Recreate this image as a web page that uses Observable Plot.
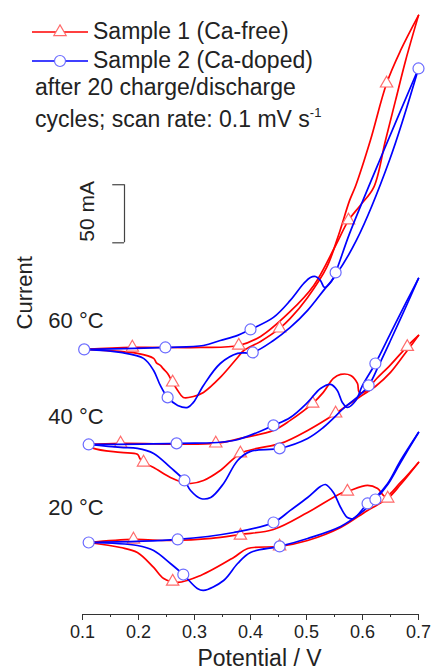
<!DOCTYPE html>
<html>
<head>
<meta charset="utf-8">
<script src="https://cdn.jsdelivr.net/npm/d3@7"></script>
<script src="https://cdn.jsdelivr.net/npm/@observablehq/plot@0.6"></script>
<style>
  body { margin: 0; background: #fff; font-family: "Liberation Sans", Arial, sans-serif; color: #222; }
  #wrap { position: relative; width: 432px; height: 672px; overflow: hidden; }
  .lg { position: absolute; font-size: 23px; white-space: nowrap; line-height: 1; }
  .sw { position: absolute; }
</style>
</head>
<body>
<div id="wrap"></div>
<script>
// ---------- data (potential in V, current in mA relative to each curve's baseline) ----------
const xTicks = [0.1, 0.2, 0.3, 0.4, 0.5, 0.6, 0.7];
const xMinorTicks = [0.15, 0.25, 0.35, 0.45, 0.55, 0.65];
const tempLabels = ["20 °C", "40 °C", "60 °C"];
const tempOffsets = [62.0, 146.4, 228.2];      // vertical stacking offsets (mA)
const tempLabelY = [91.3, 170.5, 253.1];        // label positions (mA)
const tempLabelX = 0.039;
const scaleBarBase = 320;
const scaleBarSize = 50;
const scaleBarLabel = "50 mA";
const sampleNames = ["Sample 1 (Ca-free)", "Sample 2 (Ca-doped)"];

// Sample 1 (Ca-free) 20 °C
const s1_20_fwd = [[0.111,0],[0.191,2.6],[0.257,1.7],[0.33,3.5],[0.382,6.9],[0.441,11.2],[0.502,25.8],[0.561,42.2],[0.573,43.9],[0.609,49.1],[0.627,46.5],[0.641,39.6],[0.668,51.7],[0.700,68.9]];
const s1_20_rev = [[0.700,68.9],[0.668,49.9],[0.645,37.9],[0.609,27.6],[0.561,12.9],[0.502,1.7],[0.452,-3.4],[0.395,-5.2],[0.370,-12.9],[0.311,-28.4],[0.270,-34.4],[0.245,-31.0],[0.227,-21.5],[0.198,-8.6],[0.168,-4.3],[0.111,0]];
// Sample 2 (Ca-doped) 20 °C
const s2_20_fwd = [[0.111,0],[0.270,2.6],[0.370,8.6],[0.441,17.2],[0.471,27.6],[0.502,38.7],[0.525,48.2],[0.534,49.9],[0.548,43.0],[0.561,30.1],[0.573,21.5],[0.584,20.7],[0.609,33.6],[0.623,38.7],[0.645,50.8],[0.668,70.6],[0.700,94.7]];
const s2_20_rev = [[0.700,94.7],[0.668,68.9],[0.645,49.9],[0.623,37.0],[0.596,25.0],[0.561,13.8],[0.502,3.4],[0.452,-3.4],[0.400,-8.6],[0.377,-18.1],[0.352,-32.7],[0.316,-41.3],[0.305,-39.6],[0.280,-27.6],[0.257,-18.1],[0.227,-6.9],[0.198,-2.6],[0.111,0]];

// Sample 1 40 °C
const s1_40_fwd = [[0.111,0],[0.168,0.9],[0.338,0.9],[0.382,5.2],[0.441,12.1],[0.471,20.7],[0.511,35.3],[0.530,44.8],[0.548,56.8],[0.561,60.3],[0.579,59.4],[0.591,52.5],[0.594,45.0],[0.605,45.5],[0.623,55.5],[0.650,68.5],[0.680,84.5],[0.700,93.8]];
const s1_40_rev = [[0.700,93.8],[0.680,80.9],[0.650,62.0],[0.623,49.9],[0.596,41.3],[0.570,32.7],[0.552,26.7],[0.502,12.1],[0.454,0.9],[0.412,-3.4],[0.382,-7.7],[0.346,-22.4],[0.316,-31.0],[0.293,-33.6],[0.280,-32.7],[0.257,-28.4],[0.227,-19.8],[0.209,-15.5],[0.203,-12.5],[0.198,-8.5],[0.168,-6.9],[0.120,-3.4],[0.111,0]];
// Sample 2 40 °C
const s2_40_fwd = [[0.111,0],[0.268,0.9],[0.370,3.4],[0.441,16.4],[0.471,23.2],[0.502,36.2],[0.525,48.2],[0.543,51.7],[0.555,46.5],[0.564,36.2],[0.573,31.9],[0.588,37.9],[0.600,50.8],[0.623,69.7],[0.650,95.6],[0.677,121.4],[0.700,142.9]];
const s2_40_rev = [[0.700,142.9],[0.677,117.9],[0.650,89.5],[0.629,68.0],[0.611,50.8],[0.588,39.6],[0.570,32.7],[0.530,14.6],[0.502,5.2],[0.452,-3.4],[0.400,-6.0],[0.377,-13.8],[0.352,-33.6],[0.329,-45.6],[0.311,-46.5],[0.293,-39.6],[0.282,-31.0],[0.257,-19.8],[0.227,-7.7],[0.198,-3.4],[0.168,-2.6],[0.111,0]];

// Sample 1 60 °C
const s1_60_fwd = [[0.105,0],[0.189,1.7],[0.311,1.7],[0.379,3.4],[0.418,11.2],[0.471,32.7],[0.513,55.1],[0.552,89.5],[0.575,111.1],[0.596,124.0],[0.620,139.5],[0.641,179.9],[0.659,214.4],[0.677,248.8],[0.700,287.6]];
const s1_60_rev = [[0.700,287.6],[0.668,257.4],[0.643,229.0],[0.614,179.9],[0.588,141.2],[0.577,128.3],[0.557,98.1],[0.536,70.6],[0.502,44.8],[0.471,26.7],[0.452,18.1],[0.418,6.9],[0.388,-0.9],[0.377,-6.9],[0.346,-24.1],[0.316,-37.0],[0.298,-40.5],[0.280,-41.3],[0.270,-35.3],[0.261,-28.4],[0.252,-20.7],[0.244,-16.5],[0.239,-13.8],[0.232,-11.5],[0.227,-7.7],[0.198,-3.4],[0.138,-0.9],[0.105,0]];
// Sample 2 60 °C
const s2_60_fwd = [[0.105,0],[0.248,1.7],[0.316,3.4],[0.346,7.7],[0.377,12.1],[0.400,17.2],[0.441,27.6],[0.471,42.2],[0.495,56.8],[0.507,62.0],[0.516,62.8],[0.525,59.4],[0.532,53.4],[0.543,57.7],[0.552,66.3],[0.577,99.9],[0.638,171.3],[0.700,241.9]];
const s2_60_rev = [[0.700,241.9],[0.648,162.7],[0.589,93.8],[0.552,63.7],[0.532,51.7],[0.502,33.6],[0.471,18.9],[0.441,7.7],[0.404,-2.6],[0.377,-3.4],[0.346,-12.1],[0.316,-31.0],[0.298,-45.6],[0.288,-49.9],[0.270,-48.2],[0.252,-41.3],[0.239,-31.0],[0.227,-18.1],[0.209,-7.7],[0.168,-2.6],[0.105,0]];

// Symbol positions (V, mA relative to baseline)
const s1_20_marks = [[0.191,2.6],[0.382,6.0],[0.573,43.9],[0.645,37.9],[0.452,-3.4],[0.261,-33.6]];
const s1_40_marks = [[0.168,0.9],[0.338,0.9],[0.511,35.3],[0.680,84.0],[0.552,26.7],[0.382,-7.7],[0.209,-15.5]];
const s1_60_marks = [[0.189,1.7],[0.379,3.4],[0.575,111.1],[0.643,229.0],[0.452,18.1],[0.261,-28.4]];
const s2_20_marks = [[0.111,0],[0.270,2.6],[0.441,17.2],[0.609,33.6],[0.623,37.0],[0.452,-3.4],[0.280,-27.6]];
const s2_40_marks = [[0.111,0],[0.268,0.9],[0.441,16.4],[0.623,69.7],[0.611,50.8],[0.452,-3.4],[0.282,-31.0]];
const s2_60_marks = [[0.103,0],[0.248,1.7],[0.400,17.2],[0.552,66.3],[0.700,241.9],[0.404,-2.6],[0.252,-41.3]];

const red = "#ff0000", blue = "#0000ff";
const redSym = "#ff6b6b", blueSym = "#6b6bff";

// ---------- build tables ----------
const curves = [
  {t: 0, s: 1, f: s1_20_fwd, r: s1_20_rev, m: s1_20_marks},
  {t: 1, s: 1, f: s1_40_fwd, r: s1_40_rev, m: s1_40_marks},
  {t: 2, s: 1, f: s1_60_fwd, r: s1_60_rev, m: s1_60_marks},
  {t: 0, s: 2, f: s2_20_fwd, r: s2_20_rev, m: s2_20_marks},
  {t: 1, s: 2, f: s2_40_fwd, r: s2_40_rev, m: s2_40_marks},
  {t: 2, s: 2, f: s2_60_fwd, r: s2_60_rev, m: s2_60_marks}
];
const lineRows = [], markRows = [];
for (const c of curves) {
  for (const [dir, arr] of [["f", c.f], ["r", c.r]]) {
    for (const [v, i] of arr) lineRows.push({V: v, I: i + tempOffsets[c.t], key: `${c.s}-${c.t}-${dir}`, s: c.s});
  }
  for (const [v, i] of c.m) markRows.push({V: v, I: i + tempOffsets[c.t], s: c.s});
}
const labelRows = tempLabels.map((t, k) => ({text: t, V: tempLabelX, I: tempLabelY[k]}));
const scaleBarX = 0.175, scaleTickX1 = 0.154, scaleLabelX = 0.108;
const yLabel = {text: "Current", V: -0.003, I: 277};

const font = "Liberation Sans, Arial, sans-serif";
const chart = Plot.plot({
  width: 432,
  height: 672,
  marginTop: 10,
  marginBottom: 58,
  marginLeft: 82,
  marginRight: 14,
  x: {domain: [0.1, 0.7]},
  y: {domain: [0, 520], axis: null},
  style: {fontFamily: font, fontSize: "18px", color: "#222", background: "white"},
  marks: [
    Plot.ruleY([0], {stroke: "#333", strokeWidth: 1}),
    Plot.axisX({ticks: xTicks, tickSize: 6, tickPadding: 5, fontSize: 18, label: null, stroke: "#333", tickFormat: d3.format(".1f")}),
    Plot.axisX({ticks: xMinorTicks, tickSize: 3, tickFormat: () => "", label: null, stroke: "#333"}),
    Plot.text(["Potential / V"], {frameAnchor: "bottom", dx: 9, dy: 51, fontSize: 23, fill: "#222"}),
    Plot.text([yLabel], {x: "V", y: "I", text: "text", rotate: -90, fontSize: 22, fill: "#222"}),
    Plot.text(labelRows, {x: "V", y: "I", text: "text", textAnchor: "start", fontSize: 22, fill: "#222"}),
    // scale bar
    Plot.ruleX([scaleBarX], {y1: scaleBarBase, y2: scaleBarBase + scaleBarSize, stroke: "#444", strokeWidth: 1.2}),
    Plot.ruleY([scaleBarBase, scaleBarBase + scaleBarSize], {x1: scaleTickX1, x2: scaleBarX, stroke: "#444", strokeWidth: 1.2}),
    Plot.text([scaleBarLabel], {x: scaleLabelX, y: scaleBarBase + scaleBarSize / 2 + 2, rotate: -90, fontSize: 21, fill: "#222"}),
    // sample 1
    Plot.line(lineRows.filter(d => d.s === 1), {x: "V", y: "I", z: "key", stroke: red, strokeWidth: 1.7, curve: "catmull-rom"}),
    Plot.dot(markRows.filter(d => d.s === 1), {x: "V", y: "I", symbol: "triangle", r: 4.6, stroke: redSym, strokeWidth: 1.2, fill: "white"}),
    // sample 2
    Plot.line(lineRows.filter(d => d.s === 2), {x: "V", y: "I", z: "key", stroke: blue, strokeWidth: 1.7, curve: "catmull-rom"}),
    Plot.dot(markRows.filter(d => d.s === 2), {x: "V", y: "I", symbol: "circle", r: 5.5, stroke: blueSym, strokeWidth: 1.2, fill: "white"})
  ]
});
const wrap = document.getElementById("wrap");
wrap.appendChild(chart);

// ---------- legend / annotation (HTML overlay) ----------
function swatch(color, symColor, sym, top) {
  const s = d3.create("svg").attr("class", "sw").attr("width", 56).attr("height", 16)
    .style("left", "32px").style("top", (top - 8) + "px");
  s.append("line").attr("x1", 0).attr("x2", 56).attr("y1", 8).attr("y2", 8).attr("stroke", color).attr("stroke-width", 1.7);
  s.append("path").attr("transform", "translate(28,8)")
    .attr("d", d3.symbol(sym === "triangle" ? d3.symbolTriangle : d3.symbolCircle, sym === "triangle" ? 66 : 95)())
    .attr("fill", "white").attr("stroke", symColor).attr("stroke-width", 1.2);
  wrap.appendChild(s.node());
}
function label(html, left, top) {
  const d = document.createElement("div");
  d.className = "lg";
  d.style.left = left + "px";
  d.style.top = top + "px";
  d.innerHTML = html;
  wrap.appendChild(d);
}
swatch(red, redSym, "triangle", 32);
swatch(blue, blueSym, "circle", 61);
label(sampleNames[0], 93, 20);
label(sampleNames[1], 93, 49);
label("after 20 charge/discharge", 35, 76);
label("cycles; scan rate: 0.1 mV s<sup style='font-size:13px;vertical-align:10px'>-1</sup>", 35, 106);
</script>
</body>
</html>
